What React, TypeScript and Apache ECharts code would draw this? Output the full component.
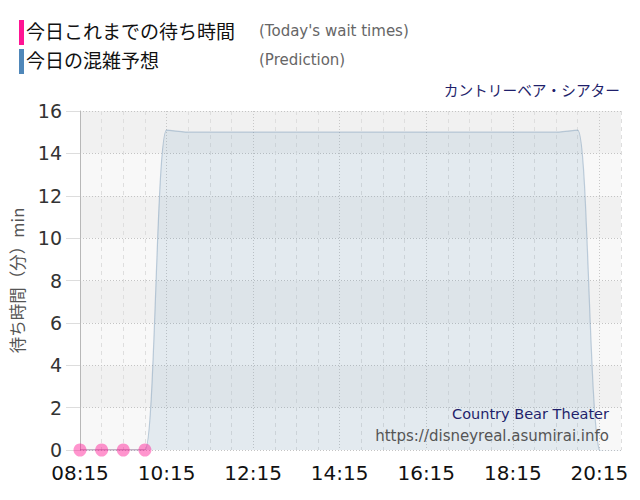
import React, { useEffect, useRef } from "react";
import * as echarts from "echarts";

const times = [
  "08:15", "08:45", "09:15", "09:45", "10:15", "10:45", "11:15", "11:45",
  "12:15", "12:45", "13:15", "13:45", "14:15", "14:45", "15:15", "15:45",
  "16:15", "16:45", "17:15", "17:45", "18:15", "18:45", "19:15", "19:45",
  "20:15", "20:45",
];

const prediction = [
  0, 0, 0, 0, 15.1, 15, 15, 15,
  15, 15, 15, 15, 15, 15, 15, 15,
  15, 15, 15, 15, 15, 15, 15, 15.1,
  0, -0.1,
];

const waitTimes: (number | null)[] = [
  0, 0, 0, 0, null, null, null, null,
  null, null, null, null, null, null, null, null,
  null, null, null, null, null, null, null, null,
  null, null,
];

const yTicks = { min: 0, max: 16, interval: 2 };

const legendMain = ["今日これまでの待ち時間", "今日の混雑予想"];
const legendSub = ["(Today's wait times)", "(Prediction)"];
const attractionJa = "カントリーベア・シアター";
const attractionEn = "Country Bear Theater";
const siteUrl = "https://disneyreal.asumirai.info";

const JP = '"Noto Sans CJK JP", "Noto Sans", sans-serif';
const LAT = '"DejaVu Sans", Verdana, sans-serif';

export default function App() {
  const ref = useRef<HTMLDivElement>(null);

  useEffect(() => {
    if (!ref.current) return;
    const chart = echarts.init(ref.current, undefined, { renderer: "svg" });
    chart.setOption({
      animation: false,
      backgroundColor: "#ffffff",
      grid: { left: 80, right: 19, top: 111, bottom: 50, containLabel: false },
      xAxis: [
        {
          type: "category",
          data: times,
          boundaryGap: false,
          axisLine: { show: false },
          axisTick: { show: false },
          axisLabel: {
            interval: 3,
            color: "#111",
            fontSize: 20,
            fontFamily: LAT,
            margin: 13,
          },
          splitLine: {
            show: true,
            interval: (i: number) => i % 4 !== 0,
            lineStyle: { color: "#dedede", type: [4, 4], width: 1 },
          },
        },
        {
          type: "category",
          data: times,
          boundaryGap: false,
          position: "bottom",
          axisLine: { show: false },
          axisTick: { show: false },
          axisLabel: { show: false },
          splitLine: {
            show: true,
            interval: (i: number) => i % 4 === 0 && i !== 0,
            lineStyle: { color: "#c8c8c8", type: [1, 2], width: 1 },
          },
        },
      ],
      yAxis: {
        type: "value",
        min: yTicks.min,
        max: yTicks.max,
        interval: yTicks.interval,
        name: "待ち時間（分）min",
        nameLocation: "middle",
        nameGap: 55,
        nameRotate: 90,
        nameTextStyle: { color: "#555", fontSize: 16.5, fontFamily: JP },
        axisLine: { show: true, lineStyle: { color: "#b8b8b8", width: 1 } },
        axisTick: { show: true, length: 14, lineStyle: { color: "#dddddd" } },
        axisLabel: { color: "#333", fontSize: 19, fontFamily: LAT, margin: 18 },
        splitLine: { show: true, lineStyle: { color: "#c4c4c4", type: [1, 2] } },
        splitArea: { show: true, areaStyle: { color: ["#f8f8f8", "#f1f1f1"] } },
      },
      series: [
        {
          name: "prediction",
          type: "line",
          data: prediction,
          smooth: 0.25,
          symbol: "none",
          lineStyle: { color: "rgba(90,130,165,0.35)", width: 1.2 },
          areaStyle: { color: "rgba(70,130,180,0.16)", origin: 0 },
          z: 2,
        },
        {
          name: "wait",
          type: "line",
          data: waitTimes,
          connectNulls: false,
          symbol: "circle",
          symbolSize: 13,
          showSymbol: true,
          itemStyle: { color: "rgba(255,20,147,0.45)", borderWidth: 0 },
          lineStyle: { color: "rgba(150,90,130,0.7)", width: 1.2 },
          z: 3,
        },
      ],
      graphic: [
        { type: "rect", left: 19, top: 20, shape: { width: 5, height: 25 }, style: { fill: "#ff1493" } },
        { type: "rect", left: 19, top: 49, shape: { width: 5, height: 25 }, style: { fill: "#4f87b9" } },
        {
          type: "text", left: 26, top: 21,
          style: { text: legendMain[0], fontSize: 19, fontFamily: JP, fill: "#111" },
        },
        {
          type: "text", left: 26, top: 50,
          style: { text: legendMain[1], fontSize: 19, fontFamily: JP, fill: "#111" },
        },
        {
          type: "text", left: 259, top: 23,
          style: { text: legendSub[0], fontSize: 15, fontFamily: LAT, fill: "#666" },
        },
        {
          type: "text", left: 259, top: 52,
          style: { text: legendSub[1], fontSize: 15, fontFamily: LAT, fill: "#666" },
        },
        {
          type: "text", right: 20, top: 82,
          style: { text: attractionJa, fontSize: 14.7, fontFamily: JP, fill: "#1f1f6b" },
        },
        {
          type: "text", right: 31, top: 406,
          style: { text: attractionEn, fontSize: 14.5, fontFamily: LAT, fill: "#1f1f6b" },
          z: 10,
        },
        {
          type: "text", right: 31, top: 428,
          style: { text: siteUrl, fontSize: 15, fontFamily: LAT, fill: "#555" },
          z: 10,
        },
      ],
    });
    return () => chart.dispose();
  }, []);

  return (
    <div
      ref={ref}
      style={{ position: "fixed", left: 0, top: 0, width: 640, height: 500 }}
    />
  );
}
